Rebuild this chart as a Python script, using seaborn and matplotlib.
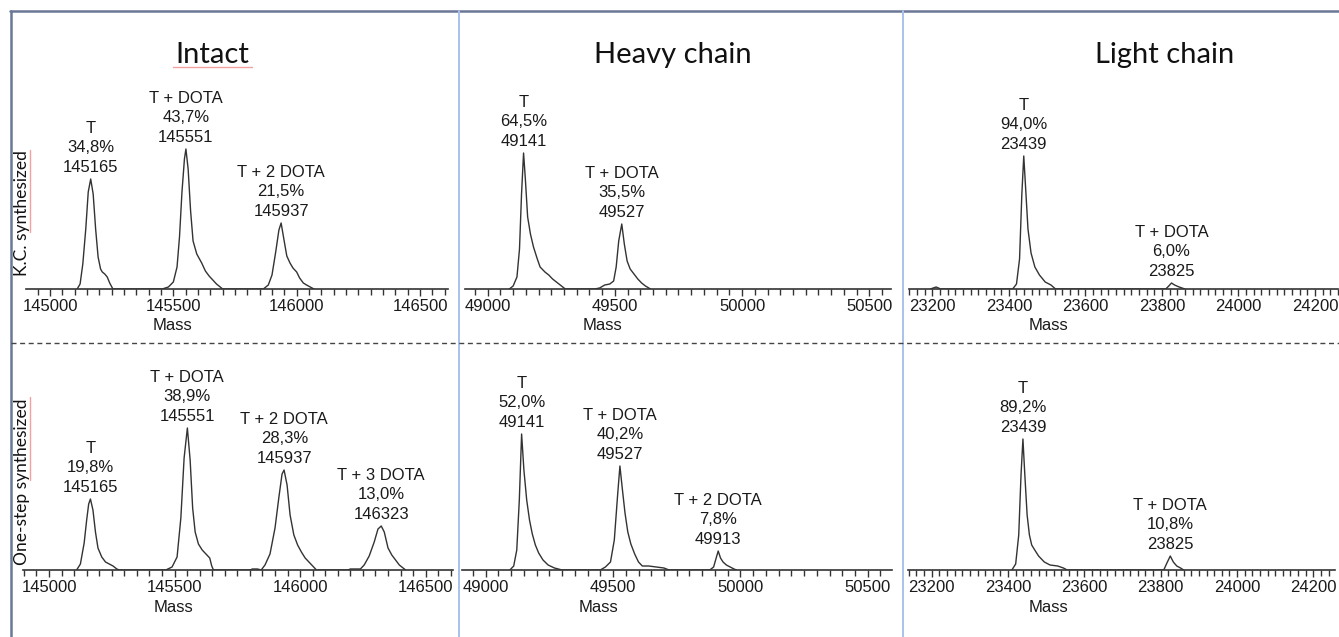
import numpy as np
import pandas as pd
import matplotlib.pyplot as plt
import seaborn as sns
from matplotlib.lines import Line2D
from matplotlib.ticker import MultipleLocator

# --- deconvoluted spectra (intensity in a.u.) ---
# Intact, K.C. synthesized
intact_kc_mass = [145110, 145122, 145133, 145145, 145155, 145165, 145175, 145185, 145195, 145205,
                  145212, 145222, 145232, 145242, 145255,
                  145455, 145480, 145500, 145515, 145525, 145535, 145545, 145551, 145560, 145570,
                  145580, 145595, 145615, 145630, 145645, 145660, 145675, 145690, 145700,
                  145865, 145885, 145900, 145915, 145928, 145937, 145948, 145960, 145973, 145985,
                  146000, 146012, 146027, 146040, 146055, 146070]
intact_kc_int = [0, 5, 25, 60, 97, 110, 95, 60, 32, 20,
                 17, 15, 12, 6, 0,
                 0, 2, 7, 22, 52, 97, 130, 140, 120, 78,
                 48, 35, 26, 18, 13, 9, 5, 2, 0,
                 0, 4, 14, 37, 59, 66, 50, 33, 26, 21,
                 17, 11, 6, 4, 2, 0]
intact_kc_peaks = [145165, 145551, 145937]
intact_kc_species = ['T', 'T + DOTA', 'T + 2 DOTA']
intact_kc_pct = ['34,8%', '43,7%', '21,5%']

# Intact, one-step synthesized
intact_os_mass = [145110, 145125, 145140, 145150, 145158, 145165, 145175, 145185, 145195, 145210,
                  145225, 145240, 145255, 145270, 145280,
                  145465, 145490, 145510, 145525, 145538, 145551, 145562, 145572, 145582, 145595,
                  145610, 145625, 145640, 145648, 145655,
                  145800, 145810, 145830, 145845, 145860, 145880, 145900, 145915, 145928, 145936,
                  145948, 145960, 145975, 145990, 146005, 146020, 146035, 146050, 146065,
                  146190, 146200, 146225, 146240, 146255, 146275, 146295, 146310, 146323, 146335,
                  146350, 146365, 146380, 146395, 146410, 146420]
intact_os_int = [0, 6, 27, 50, 66, 71, 60, 38, 22, 13,
                 8, 6, 4, 1, 0,
                 0, 3, 13, 52, 112, 142, 110, 62, 38, 26,
                 20, 16, 12, 4, 0,
                 0, 1, 1, 0, 5, 16, 42, 72, 96, 100,
                 85, 55, 35, 25, 18, 12, 8, 4, 0,
                 0, 1, 1, 1, 5, 14, 28, 41, 44, 38,
                 22, 15, 10, 5, 2, 0]
intact_os_peaks = [145165, 145551, 145937, 146323]
intact_os_species = ['T', 'T + DOTA', 'T + 2 DOTA', 'T + 3 DOTA']
intact_os_pct = ['19,8%', '38,9%', '28,3%', '13,0%']

# Heavy chain, K.C. synthesized
heavy_kc_mass = [49085, 49100, 49115, 49125, 49133, 49141, 49148, 49157, 49168, 49180,
                 49195, 49206, 49225, 49240, 49255, 49275, 49290, 49305,
                 49420, 49440, 49460, 49480, 49495, 49505, 49515, 49527, 49537, 49548,
                 49560, 49575, 49590, 49605, 49620, 49640]
heavy_kc_int = [0, 3, 12, 40, 95, 136, 110, 72, 55, 42,
                30, 22, 17, 14, 10, 6, 3, 0,
                0, 1, 4, 5, 8, 22, 48, 65, 45, 28,
                20, 15, 10, 6, 3, 0]
heavy_kc_peaks = [49141, 49527]
heavy_kc_species = ['T', 'T + DOTA']
heavy_kc_pct = ['64,5%', '35,5%']

# Heavy chain, one-step synthesized
heavy_os_mass = [49095, 49110, 49122, 49132, 49141, 49150, 49161, 49172, 49183, 49195,
                 49208, 49225, 49245, 49270, 49300,
                 49450, 49470, 49490, 49505, 49518, 49527, 49537, 49547, 49558, 49570,
                 49585, 49600, 49615, 49640, 49670, 49700, 49720,
                 49880, 49895, 49905, 49913, 49922, 49932, 49945, 49960, 49975, 49985]
heavy_os_int = [0, 4, 20, 70, 136, 100, 70, 50, 36, 25,
                17, 10, 5, 2, 0,
                0, 3, 8, 30, 75, 104, 80, 57, 38, 26,
                16, 8, 4, 4, 3, 2, 0,
                0, 3, 12, 19, 12, 8, 5, 3, 1, 0]
heavy_os_peaks = [49141, 49527, 49913]
heavy_os_species = ['T', 'T + DOTA', 'T + 2 DOTA']
heavy_os_pct = ['52,0%', '40,2%', '7,8%']

# Light chain, K.C. synthesized
light_kc_mass = [23195, 23210, 23222,
                 23410, 23420, 23428, 23434, 23439, 23444, 23450, 23458, 23468, 23480,
                 23495, 23510, 23522,
                 23810, 23818, 23825, 23833, 23845, 23860]
light_kc_int = [0, 2, 0,
                0, 5, 30, 95, 133, 100, 60, 36, 22, 14,
                7, 4, 0,
                0, 3, 6, 4, 2, 0]
light_kc_peaks = [23439, 23825]
light_kc_species = ['T', 'T + DOTA']
light_kc_pct = ['94,0%', '6,0%']

# Light chain, one-step synthesized
light_os_mass = [23410, 23420, 23428, 23434, 23439, 23444, 23450, 23456, 23462, 23470,
                 23480, 23495, 23510, 23530, 23545, 23555,
                 23808, 23815, 23825, 23833, 23842, 23852, 23860]
light_os_int = [0, 6, 35, 95, 131, 95, 55, 35, 25, 20,
                14, 8, 5, 4, 2, 0,
                0, 6, 14, 8, 4, 2, 0]
light_os_peaks = [23439, 23825]
light_os_species = ['T', 'T + DOTA']
light_os_pct = ['89,2%', '10,8%']

col_titles = ['Intact', 'Heavy chain', 'Light chain']
row_titles = ['K.C. synthesized', 'One-step synthesized']

# --- layout (pixels of the 1339x637 canvas) ---
W, H = 1339, 637
sns.set_theme(style='white')
plt.rcParams['font.family'] = ['Liberation Sans', 'DejaVu Sans']

fig = plt.figure(figsize=(W / 100, H / 100), dpi=100)
fig.patch.set_facecolor('white')


def fx(x):
    return x / W


def fy(y):
    return 1 - y / H


# (mass, intensity, peaks, species, pct, axis line px x0, x1, top px, baseline px,
#  tick pos of first/last label (value, px), major, minor, mass label x px)
panels = [
    (intact_kc_mass, intact_kc_int, intact_kc_peaks, intact_kc_species, intact_kc_pct,
     26, 448, 70, 289, (145000, 50), (146500, 420), 500, 50, 172),
    (intact_os_mass, intact_os_int, intact_os_peaks, intact_os_species, intact_os_pct,
     23, 453, 352, 570, (145000, 49), (146500, 425.7), 500, 50, 173),
    (heavy_kc_mass, heavy_kc_int, heavy_kc_peaks, heavy_kc_species, heavy_kc_pct,
     465, 891, 70, 289, (49000, 487.7), (50500, 869.3), 500, 50, 602),
    (heavy_os_mass, heavy_os_int, heavy_os_peaks, heavy_os_species, heavy_os_pct,
     462, 892, 352, 570, (49000, 485.7), (50500, 867.7), 500, 50, 599),
    (light_kc_mass, light_kc_int, light_kc_peaks, light_kc_species, light_kc_pct,
     909, 1338, 70, 289, (23200, 932.3), (24200, 1315), 200, 20, 1048),
    (light_os_mass, light_os_int, light_os_peaks, light_os_species, light_os_pct,
     908, 1335, 352, 570, (23200, 931.7), (24200, 1313.4), 200, 20, 1048),
]

for (mass, inten, peaks, species, pct, x0, x1, ytop, ybase,
     (v0, p0), (v1, p1), major, minor, mass_x) in panels:
    ax = fig.add_axes([fx(x0), fy(ybase), (x1 - x0) / W, (ybase - ytop) / H])
    scale = (p1 - p0) / (v1 - v0)
    ax.set_xlim(v0 - (p0 - x0) / scale, v1 + (x1 - p1) / scale)
    ax.set_ylim(0, ybase - ytop)
    ax.patch.set_alpha(0)

    df = pd.DataFrame({'Mass': mass, 'Intensity': inten})
    sns.lineplot(data=df, x='Mass', y='Intensity', ax=ax, color='#333333',
                 linewidth=1.0, estimator=None, sort=False)

    m = np.array(mass)
    i = np.array(inten)
    for pk, sp, pc in zip(peaks, species, pct):
        top = i[np.abs(m - pk) <= 25].max()
        ax.annotate(f'{sp}\n{pc}\n{pk}', xy=(pk, top), xytext=(0, 3),
                    textcoords='offset points', ha='center', va='bottom',
                    fontsize=12, color='#1a1a1a', linespacing=1.38)

    for s in ['top', 'left', 'right']:
        ax.spines[s].set_visible(False)
    ax.spines['bottom'].set_color('#333333')
    ax.spines['bottom'].set_linewidth(1.2)
    ax.set_yticks([])
    ax.xaxis.set_major_locator(MultipleLocator(major))
    ax.xaxis.set_minor_locator(MultipleLocator(minor))
    ax.tick_params(axis='x', which='major', direction='out', length=5, width=1,
                   color='#333333', labelsize=12, labelcolor='#1a1a1a', pad=2, bottom=True)
    ax.tick_params(axis='x', which='minor', direction='out', length=4, width=1,
                   color='#333333', bottom=True)
    ax.set_xlabel('')
    ax.set_ylabel('')
    fig.text(fx(mass_x), fy(ybase + 37), 'Mass', ha='center', va='center',
             fontsize=12, color='#1a1a1a')

# column titles
for title, cx in zip(col_titles, [212, 673, 1165]):
    fig.text(fx(cx), fy(55), title, ha='center', va='center', fontsize=21,
             family=['Lato', 'DejaVu Sans'], color='#111111')

# row titles
for title, cy in zip(row_titles, [213, 482]):
    fig.text(fx(22), fy(cy), title, ha='center', va='center', rotation=90,
             fontsize=12.5, family=['Lato', 'DejaVu Sans'], color='#111111')

# spell-check squiggles left in the original slide
fig.add_artist(Line2D([fx(173), fx(252)], [fy(67), fy(67)], color='#f2a0a0', lw=1))
fig.add_artist(Line2D([fx(30), fx(30)], [fy(150), fy(232)], color='#f2a0a0', lw=1))
fig.add_artist(Line2D([fx(30), fx(30)], [fy(397), fy(480)], color='#f2a0a0', lw=1))

# frame, column dividers and row separator
fig.add_artist(Line2D([fx(10), fx(W)], [fy(11), fy(11)], color='#6a7896', lw=1.8))
fig.add_artist(Line2D([fx(10.5), fx(10.5)], [fy(11), fy(H)], color='#6a7896', lw=1.8))
for dx in [459, 903]:
    fig.add_artist(Line2D([fx(dx), fx(dx)], [fy(11), fy(H)], color='#a9c1ec', lw=1.4))
fig.add_artist(Line2D([fx(11), fx(W)], [fy(343), fy(343)], color='#444444', lw=1,
                      linestyle=(0, (3.6, 2.6))))

fig.savefig('out.png', dpi=100, facecolor='white')
